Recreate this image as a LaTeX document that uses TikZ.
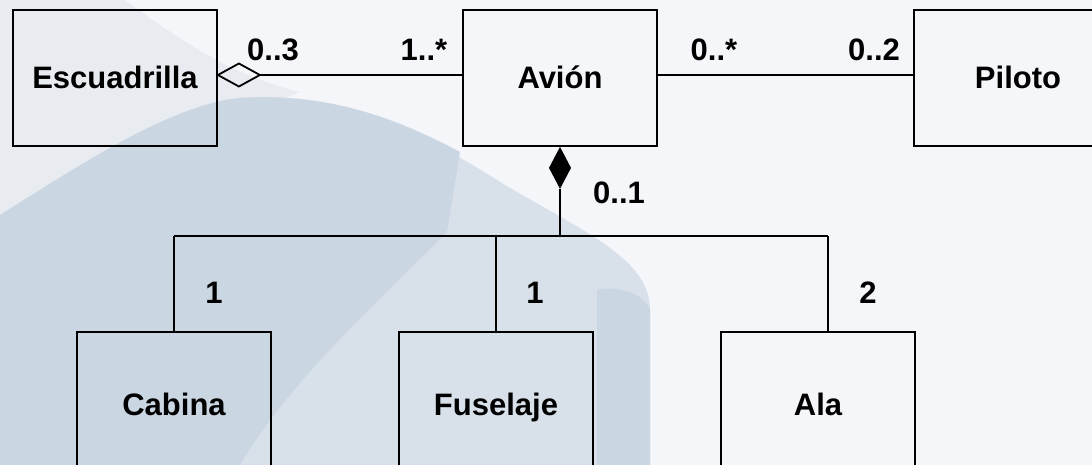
\documentclass[tikz,border=0pt]{standalone}
\usepackage{fontspec}
\setmainfont{Liberation Sans}
\usetikzlibrary{calc}
\definecolor{bgbase}{HTML}{F4F6F9}
\definecolor{halo}{HTML}{E8ECF1}
\definecolor{blobmid}{HTML}{D8E0EA}
\definecolor{blobdark}{HTML}{CBD6E3}
\tikzset{
  cls/.style={draw=black, line width=1.8pt, minimum width=194pt, minimum height=136pt, inner sep=0pt,
    text height=22pt, text depth=0pt,
    font=\fontsize{31}{36}\selectfont\bfseries},
  mult/.style={inner sep=0pt, font=\fontsize{31}{36}\selectfont\bfseries},
  conn/.style={draw=black, line width=1.8pt},
}
\begin{document}
\begin{tikzpicture}[x=1pt,y=-1pt]
\useasboundingbox (0,0) rectangle (1092,465);
% background watermark
\fill[bgbase] (0,0) rectangle (1092,465);
\fill[halo] (0,0) -- (125,0) .. controls (180,40) and (230,75) .. (300,92) -- (0,215) -- cycle;
\fill[blobmid] (0,215) .. controls (80,165) and (170,105) .. (240,98)
  .. controls (330,92) and (420,130) .. (500,182)
  .. controls (590,235) and (650,260) .. (650,310) -- (650,465) -- (0,465) -- cycle;
\fill[blobdark] (0,215) .. controls (80,165) and (170,105) .. (240,98)
  .. controls (330,92) and (400,120) .. (460,152)
  -- (447,232) .. controls (380,300) and (290,380) .. (240,465) -- (0,465) -- cycle;
\fill[blobdark] (597,290) .. controls (620,285) and (645,295) .. (650,310) -- (650,465) -- (597,465) -- cycle;
% classes
\node[cls, minimum width=204pt] (esc) at (115,78) {Escuadrilla};
\node[cls] (avion) at (560,78) {Avión};
\node[cls, minimum width=208pt] (piloto) at (1018,78) {Piloto};
\node[cls, minimum height=144pt] (cabina) at (174,404) {Cabina};
\node[cls, minimum height=144pt] (fuselaje) at (496,404) {Fuselaje};
\node[cls, minimum height=144pt] (ala) at (818,404) {Ala};
% aggregation Escuadrilla - Avion
\coordinate (aL) at ($(esc.east)+(0,-3)$);
\coordinate (aR) at ($(aL)+(42,0)$);
\draw[conn, line join=miter] (aL) -- ++(21,-11.5) -- ++(21,11.5) -- ++(-21,11.5) -- cycle;
\draw[conn] (aR) -- ($(avion.west)+(0,-3)$);
% association Avion - Piloto
\draw[conn] ($(avion.east)+(0,-3)$) -- ($(piloto.west)+(0,-3)$);
% composition Avion - parts
\coordinate (cT) at (avion.south);
\coordinate (cB) at ($(cT)+(0,42)$);
\fill[black] (cT) -- ++(11,21) -- ++(-11,21) -- ++(-11,-21) -- cycle;
\coordinate (jn) at (560,236);
\coordinate (jC) at (174,236);
\coordinate (jF) at (496,236);
\coordinate (jA) at (828,236);
\draw[conn] (cB) -- (jn);
\draw[conn] (jC) -- (jA);
\draw[conn] (jC) -- (jC |- cabina.north);
\draw[conn] (jF) -- (jF |- fuselaje.north);
\draw[conn] (jA) -- (jA |- ala.north);
% multiplicities
\node[mult] (m03) at (273,50) {0..3};
\node[mult] (m1s) at (424,50) {1..*};
\node[mult] (m0s) at (714,50) {0..*};
\node[mult] (m02) at (874,50) {0..2};
\node[mult] (m01) at (619,193) {0..1};
\node[mult] (mc) at (214,293) {1};
\node[mult] (mf) at (535,293) {1};
\node[mult] (ma) at (868,293) {2};
\end{tikzpicture}
\end{document}
